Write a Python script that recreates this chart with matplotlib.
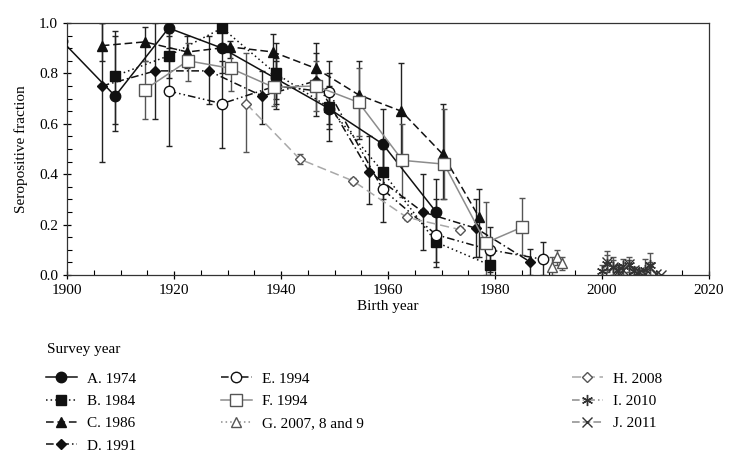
"""
Seropositive fraction by birth year, for the surveys A-J.
Output: out.png (735x458)
"""
import numpy as np
import matplotlib
matplotlib.use('Agg')
import matplotlib.pyplot as plt
from matplotlib.ticker import MultipleLocator

plt.rcParams.update({
    'font.family': 'serif',
    'font.serif': ['Liberation Serif', 'DejaVu Serif'],
    'font.size': 11,
    'axes.linewidth': 0.9,
})

# ── Data: value, lower and upper bound ───────────────────────────────────────
A_x  = [1899, 1909, 1919, 1929, 1939, 1949, 1959, 1969]
A_y  = [0.93, 0.71, 0.98, 0.90, 0.78, 0.66, 0.52, 0.25]
A_lo = [0.93, 0.57, 0.90, 0.80, 0.70, 0.58, 0.40, 0.12]
A_hi = [0.93, 0.97, 1.00, 0.97, 0.86, 0.75, 0.66, 0.38]

B_x  = [1909, 1919, 1929, 1939, 1949, 1959, 1969, 1979]
B_y  = [0.79, 0.87, 0.98, 0.80, 0.665, 0.41, 0.13, 0.04]
B_lo = [0.60, 0.78, 0.90, 0.68, 0.53, 0.30, 0.03, 0.00]
B_hi = [0.95, 0.96, 1.00, 0.92, 0.80, 0.52, 0.25, 0.08]

C_x  = [1906.5, 1914.5, 1922.5, 1930.5, 1938.5, 1946.5, 1954.5, 1962.5, 1970.2, 1977.0]
C_y  = [0.91, 0.925, 0.885, 0.905, 0.885, 0.82, 0.715, 0.65, 0.48, 0.23]
C_lo = [0.85, 0.85, 0.82, 0.86, 0.80, 0.73, 0.54, 0.45, 0.30, 0.07]
C_hi = [1.00, 0.985, 0.95, 0.93, 0.956, 0.92, 0.85, 0.84, 0.68, 0.34]

D_x  = [1906.5, 1916.5, 1926.5, 1936.5, 1946.5, 1956.5, 1966.5, 1976.5, 1986.5]
D_y  = [0.75, 0.81, 0.81, 0.71, 0.77, 0.41, 0.25, 0.185, 0.053]
D_lo = [0.45, 0.62, 0.68, 0.60, 0.63, 0.28, 0.10, 0.07, 0.00]
D_hi = [1.00, 1.00, 0.95, 0.81, 0.88, 0.55, 0.40, 0.30, 0.105]

E_x  = [1919, 1929, 1939, 1949, 1959, 1969, 1979, 1989]
E_y  = [0.73, 0.68, 0.75, 0.725, 0.34, 0.16, 0.10, 0.062]
E_lo = [0.51, 0.505, 0.66, 0.60, 0.21, 0.05, 0.01, 0.00]
E_hi = [0.95, 0.85, 0.85, 0.85, 0.50, 0.30, 0.19, 0.13]

F_x  = [1914.5, 1922.6, 1930.6, 1938.6, 1946.5, 1954.5, 1962.7, 1970.5, 1978.3, 1985.1]
F_y  = [0.735, 0.85, 0.82, 0.745, 0.75, 0.685, 0.455, 0.44, 0.128, 0.19]
F_lo = [0.62, 0.77, 0.73, 0.67, 0.65, 0.55, 0.31, 0.30, 0.00, 0.08]
F_hi = [0.85, 0.92, 0.90, 0.82, 0.85, 0.82, 0.60, 0.66, 0.29, 0.305]

G_x  = [1990.6, 1991.5, 1992.6]
G_y  = [0.033, 0.07, 0.046]
G_lo = [0.00, 0.04, 0.02]
G_hi = [0.07, 0.10, 0.07]

H_x  = [1933.5, 1943.5, 1953.5, 1963.5, 1973.5]
H_y  = [0.68, 0.46, 0.373, 0.229, 0.18]
H_lo = [0.49, 0.44, 0.36, 0.22, 0.17]
H_hi = [0.88, 0.48, 0.385, 0.24, 0.19]

I_x  = [2000, 2001, 2002, 2003, 2004, 2005, 2006, 2007, 2008, 2009]
I_y  = [0.015, 0.045, 0.03, 0.02, 0.035, 0.04, 0.015, 0.01, 0.02, 0.04]
I_lo = [0.00, 0.01, 0.00, 0.00, 0.00, 0.01, 0.00, 0.00, 0.00, 0.00]
I_hi = [0.04, 0.095, 0.07, 0.04, 0.065, 0.07, 0.03, 0.02, 0.065, 0.087]

J_x  = [2001, 2002, 2003, 2004, 2005, 2006, 2007, 2008, 2009, 2010, 2011]
J_y  = [0.05, 0.03, 0.015, 0.02, 0.045, 0.02, 0.01, 0.005, 0.03, 0.005, 0.0]
J_lo = [0.02, 0.00, 0.00, 0.00, 0.01, 0.00, 0.00, 0.00, 0.00, 0.00, 0.0]
J_hi = [0.08, 0.06, 0.03, 0.04, 0.06, 0.03, 0.02, 0.01, 0.05, 0.01, 0.0]

labels = ['A. 1974', 'B. 1984', 'C. 1986', 'D. 1991', 'E. 1994',
          'F. 1994', 'G. 2007, 8 and 9', 'H. 2008', 'I. 2010', 'J. 2011']

# ── Style per series ─────────────────────────────────────────────────────────
BLK, GRY, LGR = '#111111', '#8c8c8c', '#a8a8a8'
series = [
    (A_x, A_y, A_lo, A_hi, dict(color=BLK, ls='-', marker='o', mfc=BLK, ms=7.5)),
    (B_x, B_y, B_lo, B_hi, dict(color=BLK, ls=(0, (1, 2)), marker='s', mfc=BLK, ms=7.5)),
    (C_x, C_y, C_lo, C_hi, dict(color=BLK, ls=(0, (5, 2.5)), marker='^', mfc=BLK, ms=7.5)),
    (D_x, D_y, D_lo, D_hi, dict(color=BLK, ls=(0, (5, 2, 1, 2)), marker='D', mfc=BLK, ms=5.5)),
    (E_x, E_y, E_lo, E_hi, dict(color=BLK, ls=(0, (5, 2, 1, 2, 1, 2)), marker='o', mfc='white', ms=7.5)),
    (F_x, F_y, F_lo, F_hi, dict(color=GRY, ls='-', marker='s', mfc='white', ms=8, mec='#555555')),
    (G_x, G_y, G_lo, G_hi, dict(color=GRY, ls=(0, (1, 2)), marker='^', mfc='white', ms=7, mec='#555555')),
    (H_x, H_y, H_lo, H_hi, dict(color=LGR, ls=(0, (6, 3)), marker='D', mfc='white', ms=5.5, mec='#555555')),
    (I_x, I_y, I_lo, I_hi, dict(color=GRY, ls=(0, (5, 2, 1, 2)), marker=(6, 2, 0), mfc='white', ms=8, mec='#333333')),
    (J_x, J_y, J_lo, J_hi, dict(color=GRY, ls=(0, (5, 2)), marker='x', mfc='white', ms=7, mec='#333333')),
]

# ── Figure ───────────────────────────────────────────────────────────────────
fig = plt.figure(figsize=(7.35, 4.58), dpi=100)
ax = fig.add_axes([67 / 735, 1 - 275 / 458, 642 / 735, 252 / 458])

handles = []
for (x, y, lo, hi, st), lab in zip(series, labels):
    x = np.array(x); y = np.array(y)
    yerr = np.vstack([y - np.array(lo), np.array(hi) - y])
    ebc = '#222222' if st['color'] == BLK else '#555555'
    ax.errorbar(x, y, yerr=yerr, fmt='none', ecolor=ebc, elinewidth=1.0,
                capsize=2.5, capthick=1.0, zorder=2)
    mec = st.get('mec', BLK)
    h, = ax.plot(x, y, color=st['color'], linestyle=st['ls'], linewidth=1.1,
                 marker=st['marker'], markersize=st['ms'],
                 markerfacecolor=st['mfc'], markeredgecolor=mec,
                 markeredgewidth=1.0, label=lab, zorder=3)
    handles.append(h)

ax.set_xlim(1900, 2020)
ax.set_ylim(0, 1.0)
ax.xaxis.set_major_locator(MultipleLocator(20))
ax.xaxis.set_minor_locator(MultipleLocator(5))
ax.yaxis.set_major_locator(MultipleLocator(0.2))
ax.yaxis.set_minor_locator(MultipleLocator(0.05))
ax.yaxis.set_major_formatter(plt.FormatStrFormatter('%.1f'))
ax.tick_params(which='major', direction='inout', length=6, width=0.9, labelsize=11)
ax.tick_params(which='minor', direction='in', length=3.5, width=0.8)
for s in ax.spines.values():
    s.set_color('#333333')

ax.set_xlabel('Birth year', fontsize=11, labelpad=2)
ax.set_ylabel('Seropositive fraction', fontsize=11, labelpad=8)

# ── Legend: title plus three columns ─────────────────────────────────────────
fig.text(47 / 735, 1 - 350 / 458, 'Survey year', fontsize=11, va='center', ha='left')
cols = [(handles[0:4], labels[0:4], 40), (handles[4:7], labels[4:7], 215),
        (handles[7:10], labels[7:10], 566)]
for hs, ls, xpx in cols:
    fig.legend(hs, ls, loc='upper left', bbox_to_anchor=(xpx / 735, 1 - 366 / 458),
               frameon=False, handlelength=2.0, handletextpad=0.7,
               labelspacing=0.56, borderaxespad=0, fontsize=11, numpoints=1)

fig.savefig('out.png', dpi=100)
